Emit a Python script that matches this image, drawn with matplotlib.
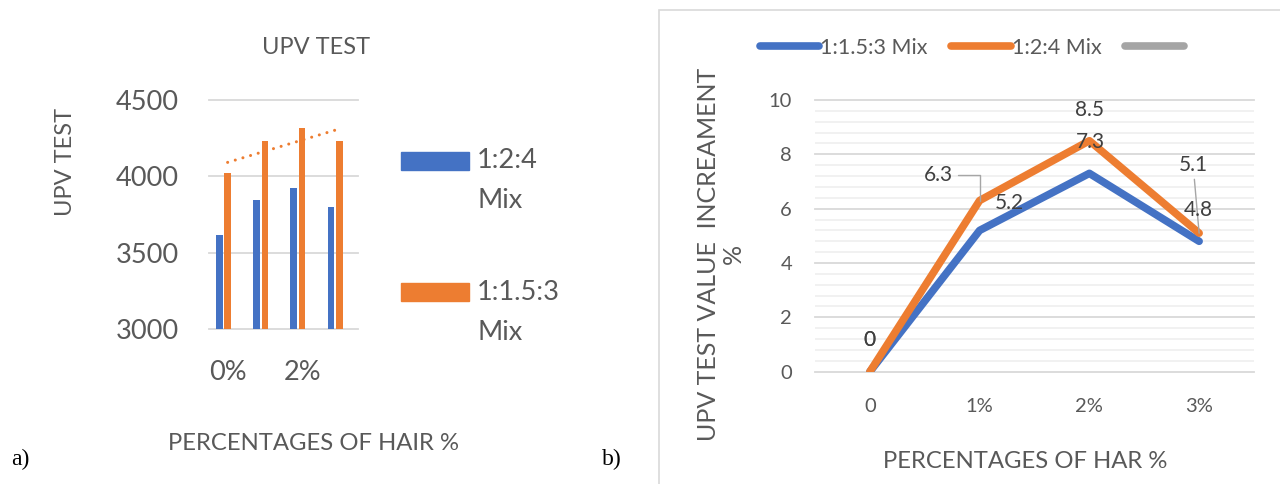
import numpy as np
import matplotlib.pyplot as plt
from matplotlib.patches import Rectangle
from matplotlib.ticker import MultipleLocator

plt.rcParams['font.family'] = ['Lato', 'DejaVu Sans']

# --- data: panel a (bars) ---
cats_a = ['0%', '1%', '2%', '3%']
upv_124 = [3616, 3845, 3925, 3801]       # 1:2:4 Mix
upv_1153 = [4020, 4233, 4318, 4235]      # 1:1.5:3 Mix

# --- data: panel b (lines) ---
cats_b = ['0', '1%', '2%', '3%']
inc_1153 = [0, 5.2, 7.3, 4.8]            # 1:1.5:3 Mix
inc_124 = [0, 6.3, 8.5, 5.1]             # 1:2:4 Mix

BLUE = '#4472C4'
ORANGE = '#ED7D31'
GRAY = '#A5A5A5'
TXT = '#595959'
GRID = '#D9D9D9'

W, H = 1280, 484
fig = plt.figure(figsize=(12.8, 4.84), dpi=100)


def fx(x):
    return x / W


def fy(y):
    return 1 - y / H


# ---------------- panel a ----------------
ax1 = fig.add_axes([fx(209), fy(329.3), fx(358) - fx(209), fy(100) - fy(329.3)])
x = np.arange(len(cats_a))
ax1.bar(x - 0.225, upv_124, width=0.18, color=BLUE, zorder=2)
ax1.bar(x + 0.0, upv_1153, width=0.18, color=ORANGE, zorder=2)

# linear trendline of the 1:1.5:3 series
k, b = np.polyfit(x, upv_1153, 1)
ax1.plot(x, k * x + b, color=ORANGE, lw=2.2, linestyle=(0, (0.01, 2.6)),
         dash_capstyle='round', zorder=3)

ax1.set_xlim(-0.5, 3.5)
ax1.set_ylim(3000, 4500)
ax1.set_yticks([3000, 3500, 4000, 4500])
ax1.set_xticks([0, 2])
ax1.set_xticklabels([cats_a[0], cats_a[2]])
ax1.grid(axis='y', color=GRID, lw=1.3)
ax1.set_axisbelow(True)
for gl in ax1.yaxis.get_gridlines():
    gl.set_clip_on(False)
for s in ax1.spines.values():
    s.set_visible(False)
ax1.tick_params(axis='y', length=0, pad=22, labelsize=19.5, labelcolor=TXT)
ax1.tick_params(axis='x', length=0, pad=22, labelsize=19.5, labelcolor=TXT)

fig.text(fx(316), fy(47), 'UPV TEST', ha='center', va='center', fontsize=17, color=TXT)
fig.text(fx(65), fy(162), 'UPV TEST', ha='center', va='center', rotation=90,
         fontsize=17, color=TXT)
fig.text(fx(313), fy(443), 'PERCENTAGES OF HAIR %', ha='center', va='center',
         fontsize=17.2, color=TXT)

# legend of panel a (text wraps like the original)
leg_a = [(BLUE, '1:2:4', 161), (ORANGE, '1:1.5:3', 292)]
for col, lab, yc in leg_a:
    fig.add_artist(Rectangle((fx(401), fy(yc + 9)), fx(68), fy(0) - fy(18),
                             transform=fig.transFigure, color=col))
    fig.text(fx(477), fy(yc), lab, ha='left', va='center', fontsize=19.5, color=TXT)
    fig.text(fx(477), fy(yc + 40), 'Mix', ha='left', va='center', fontsize=19.5, color=TXT)

fig.text(fx(20), fy(459), 'a)', ha='center', va='center', fontsize=17,
         family='Liberation Serif', color='black')
fig.text(fx(612), fy(459), 'b)', ha='center', va='center', fontsize=17,
         family='Liberation Serif', color='black')

# ---------------- panel b ----------------
fig.add_artist(Rectangle((fx(659), -0.05), 2, fy(10) + 0.05, transform=fig.transFigure,
                         fill=False, ec=GRID, lw=1.2))

ax2 = fig.add_axes([fx(815), fy(371.7), fx(1254) - fx(815), fy(100) - fy(371.7)])
xb = np.arange(len(cats_b))
l1, = ax2.plot(xb, inc_1153, color=BLUE, lw=5.5, solid_capstyle='round',
               solid_joinstyle='round', label='1:1.5:3 Mix', zorder=3)
l2, = ax2.plot(xb, inc_124, color=ORANGE, lw=5.5, solid_capstyle='round',
               solid_joinstyle='round', label='1:2:4 Mix', zorder=4)
l3, = ax2.plot([], [], color=GRAY, lw=5.5, solid_capstyle='round', label=' ')

ax2.set_xlim(-0.5, 3.5)
ax2.set_ylim(0, 10)
ax2.set_xticks(xb)
ax2.set_xticklabels(cats_b)
ax2.yaxis.set_major_locator(MultipleLocator(2))
ax2.yaxis.set_minor_locator(MultipleLocator(0.4))
ax2.grid(axis='y', which='major', color=GRID, lw=1.3)
ax2.grid(axis='y', which='minor', color='#EDEDED', lw=1.1)
ax2.set_axisbelow(True)
for gl in ax2.yaxis.get_gridlines():
    gl.set_clip_on(False)
for s in ax2.spines.values():
    s.set_visible(False)
ax2.tick_params(axis='both', which='both', length=0)
ax2.tick_params(axis='y', pad=16.5, labelsize=14.5, labelcolor=TXT)
ax2.tick_params(axis='x', pad=19, labelsize=14.5, labelcolor=TXT)

LBL = dict(fontsize=15, color='#404040', ha='center', va='center', zorder=6)
LEAD = dict(arrowstyle='-', color='#A6A6A6', lw=1, shrinkA=1, shrinkB=0)
# data labels: (series, index, dx px, dy px up, leader)
lab_specs = [
    (inc_1153, 0, 0, 31.7, None),
    (inc_124, 0, 0, 31.7, None),
    (inc_124, 1, -40.8, 25.6, 'angle,angleA=0,angleB=90,rad=0'),
    (inc_1153, 1, 29.7, 27.7, None),
    (inc_124, 2, 0, 30.8, None),
    (inc_1153, 2, 0.7, 31.7, None),
    (inc_124, 3, -6, 68, 'arc3'),
    (inc_1153, 3, -1, 31.3, None),
]
for ser, i, dx, dy, conn in lab_specs:
    kw = {}
    if conn:
        kw['arrowprops'] = dict(LEAD, connectionstyle=conn)
    ax2.annotate(f'{ser[i]:g}', xy=(xb[i], ser[i]), xytext=(dx * 0.72, dy * 0.72),
                 textcoords='offset points', **kw, **LBL)

ax2.legend(handles=[l1, l2, l3], loc='center left', ncol=3, frameon=False,
           bbox_to_anchor=(fx(760), fy(48)), bbox_transform=fig.transFigure,
           borderpad=0, borderaxespad=0, handlelength=2.75, handletextpad=0.05,
           columnspacing=1.1, fontsize=15.5, labelcolor=TXT)

fig.text(fx(721), fy(254), 'UPV TEST VALUE  INCREAMENT\n%', ha='center', va='center',
         rotation=90, multialignment='center', linespacing=1.1, fontsize=18, color=TXT)
fig.text(fx(1025), fy(462), 'PERCENTAGES OF HAR %', ha='center', va='center',
         fontsize=17.2, color=TXT)

fig.savefig('out.png', dpi=100, facecolor='white')
